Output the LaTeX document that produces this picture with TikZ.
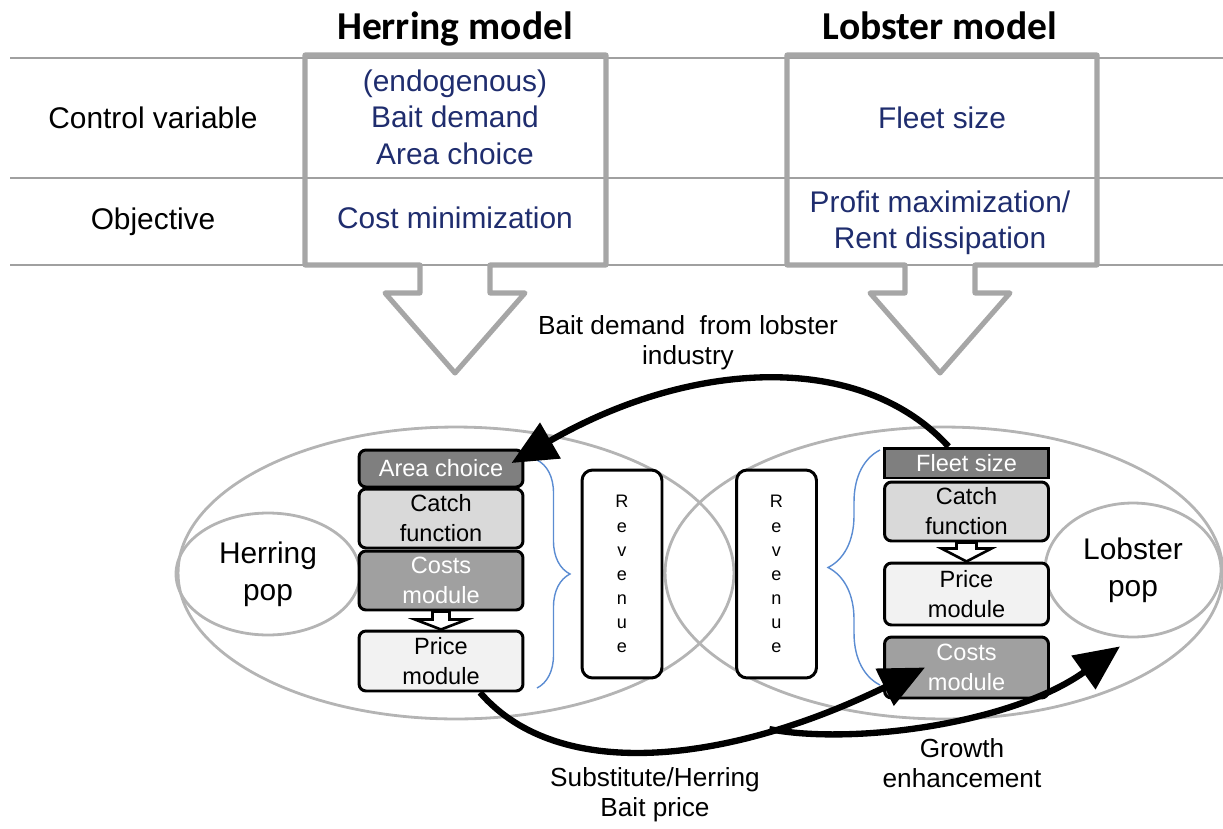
\documentclass[tikz,border=0pt]{standalone}
\usepackage{fontspec}
\setmainfont{Liberation Sans}
\newfontfamily\titlefont{Carlito}
\usepackage{xcolor}
\usetikzlibrary{arrows.meta}
\usetikzlibrary{shapes.geometric}
\usetikzlibrary{decorations.pathreplacing}
\definecolor{navytext}{RGB}{31,45,110}
\definecolor{framegray}{RGB}{166,166,166}
\definecolor{linegray}{RGB}{160,160,160}
\definecolor{popgray}{RGB}{180,180,180}
\definecolor{bracecol}{RGB}{91,140,210}
\definecolor{darkfill}{RGB}{127,127,127}
\definecolor{midfill}{RGB}{160,160,160}
\definecolor{lightfill}{RGB}{217,217,217}
\definecolor{palefill}{RGB}{242,242,242}
\newcommand{\modelarrow}[3]{ % Takes left x, right x and centre x of the framed box
    \draw[framegray, line width=2.9pt, line join=round] (#1,55) -- (#2,55) -- (#2,265) -- (#3+35,265) -- (#3+35,293) -- (#3+70,293) -- (#3,373) -- (#3-70,293) -- (#3-35,293) -- (#3-35,265) -- (#1,265) -- cycle;
}

\begin{document}
\begin{tikzpicture}[x=0.02cm, y=-0.02cm,
    titletext/.style={font=\titlefont\bfseries\fontsize{22.5}{26}\selectfont},
    rowtext/.style={font=\fontsize{17}{20.8}\selectfont, align=center},
    bluetext/.style={text=navytext, font=\fontsize{17}{20.8}\selectfont, align=center},
    tableline/.style={linegray, line width=0.8pt},
    zone/.style={draw=popgray, line width=1.6pt, ellipse, inner sep=0pt},
    poptext/.style={zone, align=center, font=\fontsize{17}{21}\selectfont},
    module/.style={draw, line width=1.7pt, rounded corners=4pt, minimum width=3.28cm, inner sep=0pt, align=center, font=\fontsize{13.4}{17}\selectfont},
    revbox/.style={draw, fill=white, line width=1.7pt, rounded corners=6pt, minimum width=1.6cm, minimum height=4.16cm, align=center, font=\fontsize{10.3}{13.7}\selectfont},
    hollowarrow/.style={draw, fill=white, line width=1.5pt, line join=miter},
    bracestyle/.style={bracecol, line width=0.8pt, decorate},
    flow/.style={line width=3.6pt, -{Triangle[length=0.9cm, width=0.8cm]}},
    flowtext/.style={font=\fontsize{14.9}{17}\selectfont, align=center}]
                \useasboundingbox (0,0) rectangle (1223,828);

                % Titles
                \node[titletext, anchor=base] (htitle) at (455,40) {Herring model};
                \node[titletext, anchor=base] (ltitle) at (940,40) {Lobster model};

                % Table lines
                \draw[tableline] (10,58) -- (1223,58);
                \draw[tableline] (10,178) -- (1223,178);
                \draw[tableline] (10,265) -- (1223,265);
                \node[rowtext] (ctrl) at (153,118) {Control variable};
                \node[rowtext] (obj) at (153,222) {Objective};

                % Model boxes
                \modelarrow{305}{606}{455}
                \modelarrow{787}{1097}{940}
                \node[bluetext] (hctrl) at (455,117) {(endogenous)\\Bait demand\\Area choice};
                \node[bluetext] (hobj) at (455,218) {Cost minimization};
                \node[bluetext] (lctrl) at (942,118) {Fleet size};
                \node[bluetext] (lobj) at (940,223) {Profit maximization/\\Rent dissipation};

                % Ellipses
                \node[zone, minimum width=11.12cm, minimum height=5.84cm] (hzone) at (456,573) {};
                \node[zone, minimum width=11.16cm, minimum height=5.84cm] (lzone) at (944,573) {};
                \node[poptext, minimum width=3.68cm, minimum height=2.44cm] (hpop) at (268,574) {Herring\\pop};
                \node[poptext, minimum width=3.52cm, minimum height=2.68cm] (lpop) at (1133,570) {Lobster\\pop};

                % Herring modules
                \node[module, fill=darkfill, text=white, minimum height=0.74cm] (harea) at (441,468.5) {Area choice};
                \node[module, fill=lightfill, minimum height=1.18cm] (hcatch) at (441,518.5) {Catch\\function};
                \node[module, fill=midfill, text=white, minimum height=1.18cm] (hcost) at (441,580.5) {Costs\\module};
                \node[module, fill=palefill, minimum height=1.2cm] (hprice) at (441,661) {Price\\module};
                \draw[hollowarrow, shift={(hcost.south)}] (-8.5,0) -- (8.5,0) -- (8.5,8) -- (26,8) -- (0,18) -- (-26,8) -- (-8.5,8) -- cycle;

                % Lobster modules
                \node[module, fill=darkfill, text=white, rounded corners=0pt, minimum height=0.6cm] (lfleet) at (966.5,463) {Fleet size};
                \node[module, fill=lightfill, minimum height=1.18cm] (lcatch) at (966.5,511.5) {Catch\\function};
                \node[module, fill=palefill, minimum height=1.24cm] (lprice) at (966.5,594) {Price\\module};
                \node[module, fill=midfill, text=white, minimum height=1.22cm] (lcost) at (966.5,667.5) {Costs\\module};
                \draw[hollowarrow, shift={(lcatch.south)}] (-10,0) -- (10,0) -- (10,6) -- (25,6) -- (0,19) -- (-25,6) -- (-10,6) -- cycle;

                % Revenue
                \node[revbox] (hrev) at (622,574) {R\\e\\v\\e\\n\\u\\e};
                \node[revbox] (lrev) at (776.5,574) {R\\e\\v\\e\\n\\u\\e};
                \draw[bracestyle, decoration={brace, amplitude=0.66cm}] (537,460) -- (537,688);
                \draw[bracestyle, decoration={brace, amplitude=1.04cm}] (880,685) -- (880,450);

                % Flows
                \draw[flow] ([xshift=-0.36cm]lfleet.north) .. controls (860,350) and (690,360) .. ([xshift=-0.26cm, yshift=0.11cm]harea.east);
                \draw[flow] ([xshift=0.78cm]hprice.south) .. controls (560,785) and (732,762) .. coordinate[pos=0.72] (branch) ([xshift=-0.83cm]lcost.center);
                \draw[flow] (branch) .. controls (850,745) and (1010,725) .. ([xshift=-0.26cm, yshift=-0.16cm]lpop.south);
                \node[flowtext] (baitlbl) at (688,343) {Bait demand\ \ from lobster\\industry};
                \node[flowtext] (pricelbl) at (655,795) {Substitute/Herring\\Bait price};
                \node[flowtext] (growlbl) at (962,763) {Growth\\enhancement};
            \end{tikzpicture}
\end{document}
